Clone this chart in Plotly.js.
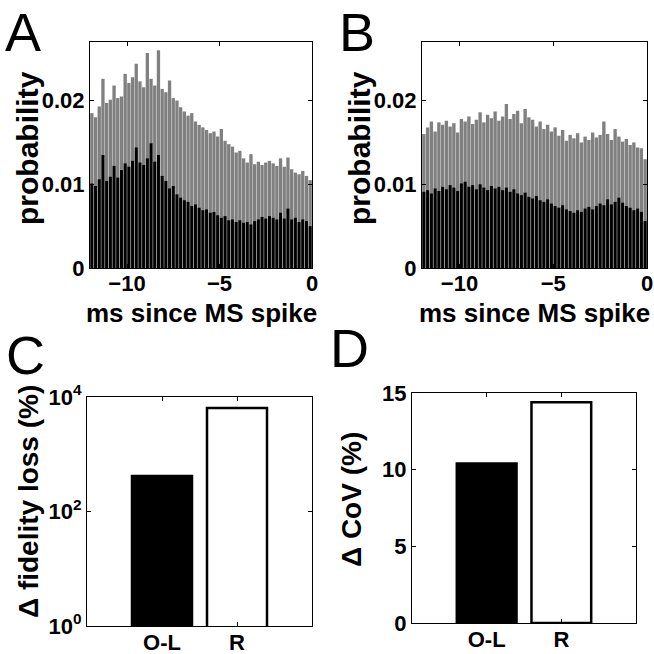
<!DOCTYPE html>
<html>
<head>
<meta charset="utf-8">
<script src="https://cdn.plot.ly/plotly-3.0.1.min.js"></script>
<style>html,body{margin:0;padding:0;background:#fff;}#chart{width:654px;height:654px;}</style>
</head>
<body>
<div id="chart"></div>
<script>
// ---- Data ----
var timeBins = [-11.9,-11.7,-11.5,-11.3,-11.1,-10.9,-10.7,-10.5,-10.3,-10.1,
  -9.9,-9.7,-9.5,-9.3,-9.1,-8.9,-8.7,-8.5,-8.3,-8.1,
  -7.9,-7.7,-7.5,-7.3,-7.1,-6.9,-6.7,-6.5,-6.3,-6.1,
  -5.9,-5.7,-5.5,-5.3,-5.1,-4.9,-4.7,-4.5,-4.3,-4.1,
  -3.9,-3.7,-3.5,-3.3,-3.1,-2.9,-2.7,-2.5,-2.3,-2.1,
  -1.9,-1.7,-1.5,-1.3,-1.1,-0.9,-0.7,-0.5,-0.3,-0.1];

var aMean = [0.0101,0.0098,0.0106,0.0135,0.0104,0.0109,0.0122,0.0108,0.0117,0.0125,
  0.0121,0.0128,0.0144,0.0126,0.0123,0.0131,0.0149,0.0127,0.0135,0.0110,
  0.0104,0.0095,0.0098,0.0088,0.0084,0.0081,0.0079,0.0074,0.0076,0.0072,
  0.0069,0.0070,0.0066,0.0067,0.0063,0.0060,0.0062,0.0057,0.0058,0.0055,
  0.0057,0.0054,0.0055,0.0052,0.0056,0.0058,0.0061,0.0059,0.0062,0.0060,
  0.0058,0.0066,0.0059,0.0071,0.0058,0.0060,0.0055,0.0058,0.0056,0.0050];

var aUpper = [0.0185,0.0180,0.0193,0.0226,0.0197,0.0201,0.0218,0.0203,0.0205,0.0232,
  0.0221,0.0228,0.0244,0.0223,0.0216,0.0257,0.0226,0.0218,0.0260,0.0214,
  0.0210,0.0224,0.0203,0.0200,0.0192,0.0187,0.0182,0.0185,0.0175,0.0171,
  0.0168,0.0165,0.0161,0.0163,0.0157,0.0166,0.0152,0.0148,0.0145,0.0138,
  0.0140,0.0131,0.0126,0.0136,0.0124,0.0127,0.0123,0.0126,0.0128,0.0125,
  0.0122,0.0131,0.0121,0.0132,0.0118,0.0114,0.0112,0.0116,0.0110,0.0105];

var bMean = [0.0091,0.0093,0.0089,0.0095,0.0092,0.0097,0.0094,0.0099,0.0096,0.0092,
  0.0101,0.0103,0.0097,0.0099,0.0094,0.0100,0.0096,0.0093,0.0098,0.0095,
  0.0097,0.0093,0.0096,0.0091,0.0094,0.0089,0.0087,0.0090,0.0085,0.0083,
  0.0086,0.0081,0.0079,0.0082,0.0077,0.0074,0.0072,0.0075,0.0070,0.0068,
  0.0066,0.0069,0.0067,0.0071,0.0073,0.0070,0.0074,0.0077,0.0075,0.0082,
  0.0076,0.0079,0.0084,0.0078,0.0074,0.0072,0.0069,0.0071,0.0067,0.0056];

var bUpper = [0.0160,0.0168,0.0175,0.0163,0.0174,0.0171,0.0176,0.0169,0.0173,0.0162,
  0.0178,0.0175,0.0181,0.0172,0.0177,0.0186,0.0174,0.0183,0.0179,0.0187,
  0.0176,0.0181,0.0196,0.0178,0.0184,0.0188,0.0173,0.0190,0.0180,0.0177,
  0.0169,0.0175,0.0166,0.0171,0.0163,0.0168,0.0158,0.0165,0.0152,0.0159,
  0.0155,0.0161,0.0150,0.0157,0.0153,0.0162,0.0156,0.0159,0.0175,0.0160,
  0.0153,0.0166,0.0157,0.0151,0.0154,0.0147,0.0150,0.0144,0.0143,0.0130];

var groupPos = [1, 2];
var groupLabels = ['O-L', 'R'];
var fidelityLoss = [417, 6400];
var covChange = [10.4, 14.4];

var histYTicks = [0, 0.01, 0.02];
var histYTickText = ['0', '0.01', '0.02'];
var histXTicks = [-10, -5, 0];
var logYTicks = [1, 100, 10000];
var logYTickText = ['10<sup>0</sup>', '10<sup>2</sup>', '10<sup>4</sup>'];
var covYTicks = [0, 5, 10, 15];

var panelLetters = ['A', 'B', 'C', 'D'];
var histXTitle = 'ms since MS spike';
var histYTitle = 'probability';
var fidelityTitle = 'Δ fidelity loss (%)';
var covTitle = 'Δ CoV (%)';

// ---- Styling ----
var FAM = 'Liberation Sans, Arial, sans-serif';
var tickFont = {family: FAM, size: 22, color: '#000', weight: 'bold'};
var xTitleFont = {family: FAM, size: 26, color: '#000', weight: 'bold'};
var yTitleFont = {family: FAM, size: 30, color: '#000', weight: 'bold'};
var barTitleFont = {family: FAM, size: 28, color: '#000', weight: 'bold'};
var letterFont = {family: FAM, size: 54, color: '#000'};
var GREY = '#808080';

function axisBase(extra) {
  var a = {
    showline: true, linecolor: '#000', linewidth: 1, mirror: 'ticks',
    ticks: 'inside', ticklen: 4, tickwidth: 1, tickcolor: '#000',
    showgrid: false, zeroline: false, tickfont: tickFont, fixedrange: true
  };
  for (var k in extra) a[k] = extra[k];
  return a;
}

var traces = [
  {type: 'bar', x: timeBins, y: aUpper, width: 0.18, marker: {color: GREY}, xaxis: 'x', yaxis: 'y', hoverinfo: 'skip'},
  {type: 'bar', x: timeBins, y: aMean, width: 0.16, marker: {color: '#000'}, xaxis: 'x', yaxis: 'y', hoverinfo: 'skip'},
  {type: 'bar', x: timeBins, y: bUpper, width: 0.18, marker: {color: GREY}, xaxis: 'x2', yaxis: 'y2', hoverinfo: 'skip'},
  {type: 'bar', x: timeBins, y: bMean, width: 0.16, marker: {color: '#000'}, xaxis: 'x2', yaxis: 'y2', hoverinfo: 'skip'},
  {type: 'bar', x: groupPos, y: fidelityLoss, width: 0.8,
   marker: {color: ['#000', '#fff'], line: {color: '#000', width: 2.5}}, xaxis: 'x3', yaxis: 'y3', hoverinfo: 'skip'},
  {type: 'bar', x: groupPos, y: covChange, width: 0.8,
   marker: {color: ['#000', '#fff'], line: {color: '#000', width: 2.5}}, xaxis: 'x4', yaxis: 'y4', hoverinfo: 'skip'}
];

function px(v) { return v / 654; }
function py(v) { return 1 - v / 654; }

function ann(text, x, y, font, angle, xa, ya) {
  return {text: text, x: px(x), y: py(y), xref: 'paper', yref: 'paper',
    xanchor: xa || 'center', yanchor: ya || 'middle', showarrow: false, font: font, textangle: angle || 0};
}

var layout = {
  width: 654, height: 654,
  margin: {l: 0, r: 0, t: 0, b: 0, pad: 0},
  paper_bgcolor: '#fff', plot_bgcolor: '#fff',
  showlegend: false, barmode: 'overlay',
  font: {family: FAM, color: '#000'},
  xaxis: axisBase({domain: [px(90), px(312)], range: [-12, 0], tickvals: histXTicks, anchor: 'y', ticklabelstandoff: -4}),
  yaxis: axisBase({domain: [py(268), py(42)], range: [0, 0.027], tickvals: histYTicks, ticktext: histYTickText, anchor: 'x'}),
  xaxis2: axisBase({domain: [px(422), px(647)], range: [-12, 0], tickvals: histXTicks, anchor: 'y2', ticklabelstandoff: -4}),
  yaxis2: axisBase({domain: [py(268), py(42)], range: [0, 0.027], tickvals: histYTicks, ticktext: histYTickText, anchor: 'x2'}),
  xaxis3: axisBase({domain: [px(87), px(312)], range: [0, 3], tickvals: groupPos, ticktext: groupLabels, anchor: 'y3', ticklabelstandoff: -3}),
  yaxis3: axisBase({domain: [py(626), py(397)], type: 'log', range: [0, 4], tickvals: logYTicks, ticktext: logYTickText, anchor: 'x3'}),
  xaxis4: axisBase({domain: [px(412), px(636)], range: [0, 3], tickvals: groupPos, ticktext: groupLabels, anchor: 'y4', ticklabelstandoff: -3}),
  yaxis4: axisBase({domain: [py(623), py(393)], range: [0, 15], tickvals: covYTicks, anchor: 'x4'}),
  annotations: [
    ann(panelLetters[0], 23, 0, letterFont, 0, 'center', 'top'),
    ann(panelLetters[1], 357, 0, letterFont, 0, 'center', 'top'),
    ann(panelLetters[2], 25, 355, letterFont),
    ann(panelLetters[3], 349, 348, letterFont),
    ann(histXTitle, 201, 313, xTitleFont),
    ann(histXTitle, 534, 313, xTitleFont),
    ann(histYTitle, 27, 148, yTitleFont, -90),
    ann(histYTitle, 359, 148, yTitleFont, -90),
    ann(fidelityTitle, 28, 502, barTitleFont, -90),
    ann(covTitle, 351, 500, barTitleFont, -90)
  ]
};

Plotly.newPlot('chart', traces, layout, {staticPlot: true, displayModeBar: false});
</script>
</body>
</html>
